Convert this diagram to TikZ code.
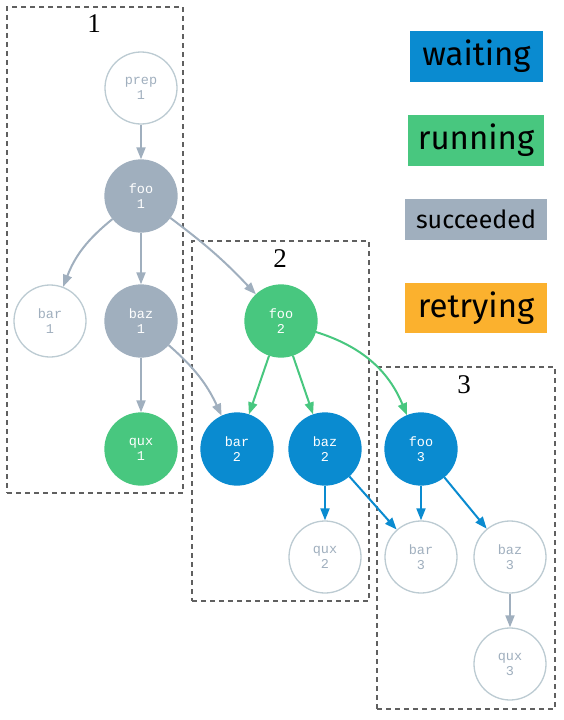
\documentclass[tikz,border=0pt]{standalone}
\usepackage{fontspec}
\setmainfont{Liberation Serif}
\newfontfamily\legfont{Fira Sans}
\newfontfamily\nodefont{Liberation Mono}
\usetikzlibrary{arrows.meta}
\definecolor{cwait}{HTML}{0A8BD0}
\definecolor{crun}{HTML}{48C77F}
\definecolor{csucc}{HTML}{A0AFBE}
\definecolor{cretry}{HTML}{FBB12E}
\definecolor{cempty}{HTML}{BCCBD2}
\definecolor{cboxline}{HTML}{606060}
\tikzset{
  job/.style={circle, minimum size=72pt, inner sep=0pt, line width=1.3pt, align=center,
    font=\nodefont\fontsize{13.5}{15}\selectfont},
  jempty/.style={job, draw=cempty, fill=white, text=csucc},
  jsucc/.style={job, draw=csucc, fill=csucc, text=white},
  jrun/.style={job, draw=crun, fill=crun, text=white},
  jwait/.style={job, draw=cwait, fill=cwait, text=white},
  edge/.style={line width=2pt, -{Triangle[length=12pt,width=9pt]}},
  egray/.style={edge, draw=csucc, color=csucc},
  egreen/.style={edge, draw=crun, color=crun},
  eblue/.style={edge, draw=cwait, color=cwait},
  stagebox/.style={draw=cboxline, line width=1.5pt, dash pattern=on 5pt off 4pt},
  stagelabel/.style={font=\fontsize{27}{29}\selectfont},
  legendbox/.style={inner sep=0pt, text=black}
}
\begin{document}
\begin{tikzpicture}[x=1pt,y=-1pt]
\useasboundingbox (0,0) rectangle (564,720);
% stage boxes
\node[stagebox, minimum width=176pt, minimum height=486pt, inner sep=0pt] (box1) at (95,250) {};
\node[stagebox, minimum width=177pt, minimum height=360pt, inner sep=0pt] (box2) at (280.5,421) {};
\node[stagebox, minimum width=178pt, minimum height=342pt, inner sep=0pt] (box3) at (466,538) {};
\node[stagelabel] (l1) at (94,24) {1};
\node[stagelabel] (l2) at (280,259) {2};
\node[stagelabel] (l3) at (464,385) {3};
% nodes
\node[jempty] (prep1) at (141,88) {prep\\1};
\node[jsucc] (foo1) at (141,196) {foo\\1};
\node[jempty] (bar1) at (50,321) {bar\\1};
\node[jsucc] (baz1) at (141,321) {baz\\1};
\node[jrun] (qux1) at (141,449) {qux\\1};
\node[jrun] (foo2) at (281,321) {foo\\2};
\node[jwait] (bar2) at (237,449) {bar\\2};
\node[jwait] (baz2) at (325,449) {baz\\2};
\node[jwait] (foo3) at (421,449) {foo\\3};
\node[jempty] (qux2) at (325,557) {qux\\2};
\node[jempty] (bar3) at (421,557) {bar\\3};
\node[jempty] (baz3) at (510,557) {baz\\3};
\node[jempty] (qux3) at (510,664) {qux\\3};
% edges
\draw[egray] (prep1) -- (foo1);
\draw[egray] (foo1) to[bend right=15] (bar1);
\draw[egray] (foo1) -- (baz1);
\draw[egray] (foo1) to[bend left=5] (foo2);
\draw[egray] (baz1) -- (qux1);
\draw[egray] (baz1) to[bend left=12] (bar2);
\draw[egreen] (foo2) -- (bar2);
\draw[egreen] (foo2) -- (baz2);
\draw[egreen] (foo2) to[bend left=25] (foo3);
\draw[eblue] (baz2) -- (qux2);
\draw[eblue] (baz2) -- (bar3);
\draw[eblue] (foo3) -- (bar3);
\draw[eblue] (foo3) -- (baz3);
\draw[egray] (baz3) -- (qux3);
% legend
\node[legendbox, fill=cwait, minimum width=133pt, minimum height=51pt, font=\legfont\fontsize{33}{35}\selectfont] (lwait) at (476.5,56.5) {waiting};
\node[legendbox, fill=crun, minimum width=136pt, minimum height=51pt, font=\legfont\fontsize{33}{35}\selectfont] (lrun) at (476,140.5) {running};
\node[legendbox, fill=csucc, minimum width=142pt, minimum height=41pt, font=\legfont\fontsize{25}{27}\selectfont] (lsucc) at (476,219.5) {succeeded};
\node[legendbox, fill=cretry, minimum width=142pt, minimum height=50pt, font=\legfont\fontsize{33}{35}\selectfont] (lretry) at (476,308) {retrying};
\end{tikzpicture}
\end{document}
